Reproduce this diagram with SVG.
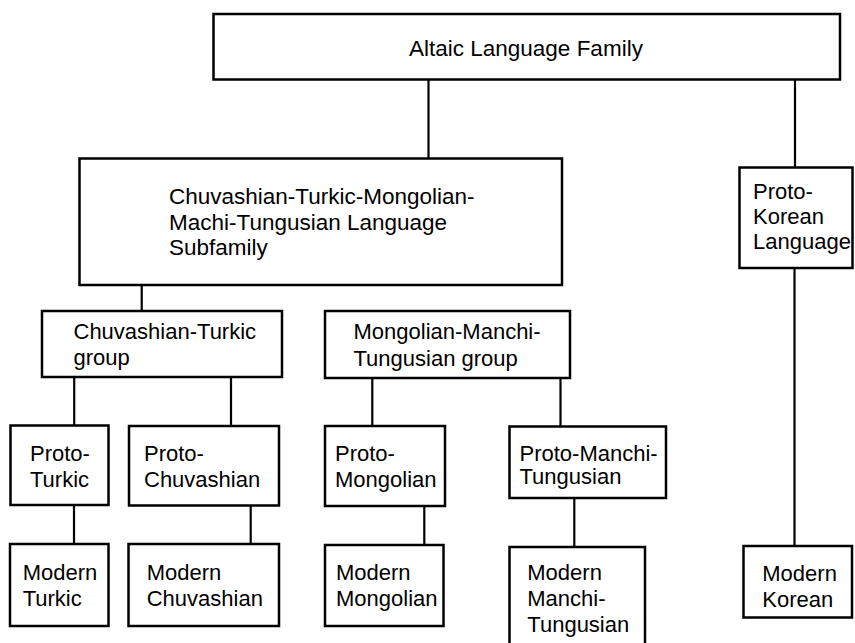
<svg xmlns="http://www.w3.org/2000/svg" width="855" height="643" viewBox="0 0 855 643">
<style>
.box{fill:#fff;stroke:#000;stroke-width:2.5}
.lbl{font-family:"Liberation Sans",Arial,sans-serif;font-size:22px;fill:#000}
.big{font-size:22.5px}
.conn line{stroke:#000;stroke-width:2.2}
</style>
<rect width="855" height="643" fill="#fff"/>
<g class="conn">
<line x1="428.5" y1="79.5" x2="428.5" y2="158.5"/>
<line x1="795" y1="79.5" x2="795" y2="167.5"/>
<line x1="141.7" y1="285" x2="141.7" y2="311"/>
<line x1="74.2" y1="377" x2="74.2" y2="425.5"/>
<line x1="231" y1="377" x2="231" y2="426"/>
<line x1="372.3" y1="378" x2="372.3" y2="426"/>
<line x1="560.5" y1="378" x2="560.5" y2="426.5"/>
<line x1="74" y1="505" x2="74" y2="544"/>
<line x1="250.7" y1="505.5" x2="250.7" y2="544"/>
<line x1="424.3" y1="506" x2="424.3" y2="545"/>
<line x1="574.3" y1="498" x2="574.3" y2="547"/>
<line x1="794.5" y1="268" x2="794.5" y2="546"/>
</g>
<g id="altaic">
<rect class="box" x="213.5" y="14" width="626.5" height="65.5"/>
<text class="lbl big" x="409" y="56">Altaic Language Family</text>
</g>
<g id="subfamily">
<rect class="box" x="79.5" y="158.5" width="482.5" height="126.5"/>
<text class="lbl big" x="169" y="204">Chuvashian-Turkic-Mongolian-</text>
<text class="lbl big" x="169" y="229.5">Machi-Tungusian Language</text>
<text class="lbl big" x="169" y="254.5">Subfamily</text>
</g>
<g id="proto-korean">
<rect class="box" x="739.5" y="167.5" width="113" height="100.5"/>
<text class="lbl" x="753" y="198.5">Proto-</text>
<text class="lbl" x="753" y="223.5">Korean</text>
<text class="lbl" x="753" y="248.5">Language</text>
</g>
<g id="chuvashian-turkic-group">
<rect class="box" x="42" y="311" width="240" height="66"/>
<text class="lbl" x="73.5" y="338.5">Chuvashian-Turkic</text>
<text class="lbl" x="73.5" y="365">group</text>
</g>
<g id="mongolian-manchi-tungusian-group">
<rect class="box" x="325" y="311" width="245" height="67"/>
<text class="lbl" x="353.5" y="339.3">Mongolian-Manchi-</text>
<text class="lbl" x="353.5" y="366">Tungusian group</text>
</g>
<g id="proto-turkic">
<rect class="box" x="10.5" y="425.5" width="98" height="79.5"/>
<text class="lbl" x="30" y="460.7">Proto-</text>
<text class="lbl" x="30" y="486.7">Turkic</text>
</g>
<g id="proto-chuvashian">
<rect class="box" x="129" y="426" width="150" height="79.5"/>
<text class="lbl" x="144" y="460.7">Proto-</text>
<text class="lbl" x="144" y="486.7">Chuvashian</text>
</g>
<g id="proto-mongolian">
<rect class="box" x="325" y="426" width="120" height="80"/>
<text class="lbl" x="335" y="460.7">Proto-</text>
<text class="lbl" x="335" y="487">Mongolian</text>
</g>
<g id="proto-manchi-tungusian">
<rect class="box" x="509.5" y="426.5" width="156.5" height="71.5"/>
<text class="lbl" x="519.5" y="460.7">Proto-Manchi-</text>
<text class="lbl" x="519.5" y="484">Tungusian</text>
</g>
<g id="modern-turkic">
<rect class="box" x="10" y="544" width="98.5" height="82"/>
<text class="lbl" x="22.7" y="579.5">Modern</text>
<text class="lbl" x="22.7" y="605.5">Turkic</text>
</g>
<g id="modern-chuvashian">
<rect class="box" x="128.5" y="544" width="150.5" height="82"/>
<text class="lbl" x="146.7" y="579.5">Modern</text>
<text class="lbl" x="146.7" y="605.5">Chuvashian</text>
</g>
<g id="modern-mongolian">
<rect class="box" x="325" y="545" width="118.5" height="81"/>
<text class="lbl" x="336" y="579.5">Modern</text>
<text class="lbl" x="336" y="606">Mongolian</text>
</g>
<g id="modern-manchi-tungusian">
<rect class="box" x="509.5" y="547" width="135.5" height="110"/>
<text class="lbl" x="527.3" y="579.5">Modern</text>
<text class="lbl" x="527.3" y="606">Manchi-</text>
<text class="lbl" x="527.3" y="632">Tungusian</text>
</g>
<g id="modern-korean">
<rect class="box" x="743.5" y="546" width="108.5" height="71.5"/>
<text class="lbl" x="762.3" y="580.7">Modern</text>
<text class="lbl" x="762.3" y="607">Korean</text>
</g>
</svg>
